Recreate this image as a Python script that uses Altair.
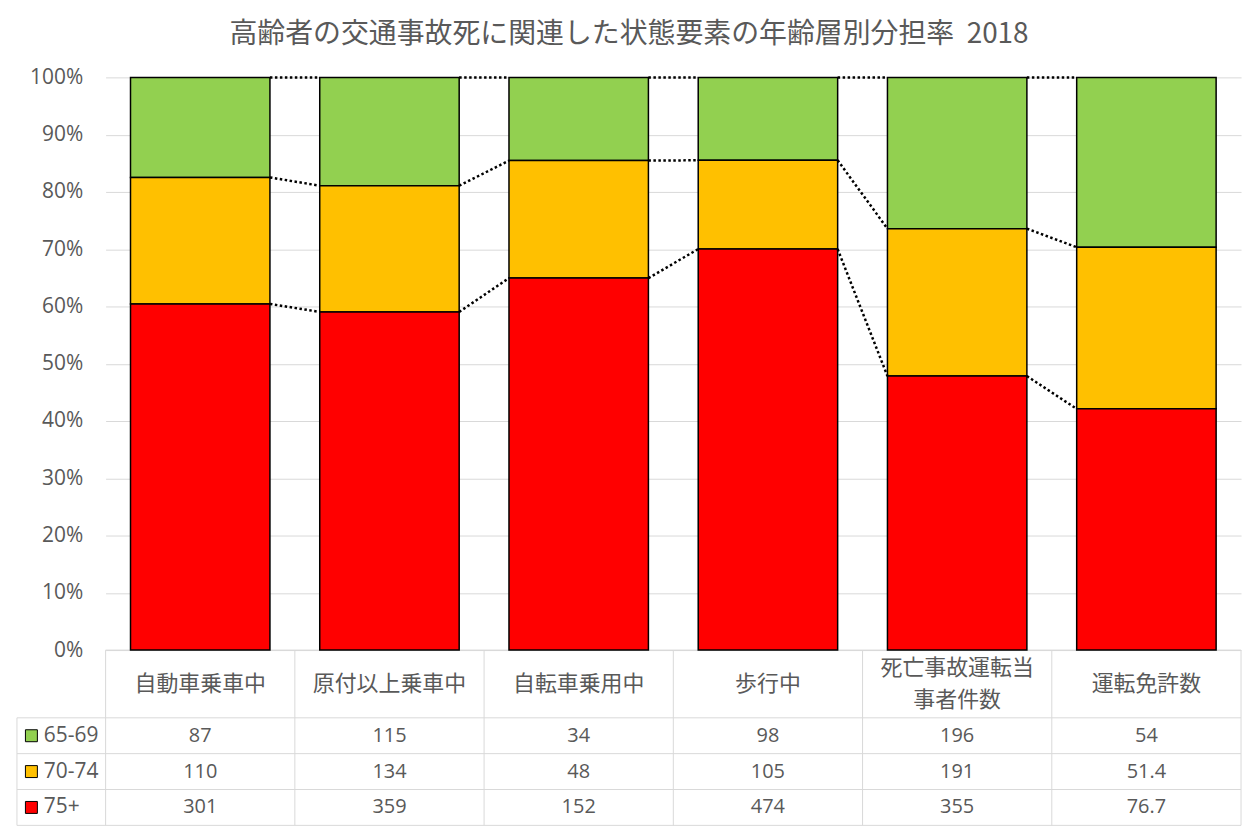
import altair as alt
import pandas as pd

# ---------------- data ----------------
categories = ["自動車乗車中", "原付以上乗車中", "自転車乗用中", "歩行中", "死亡事故運転当\n事者件数", "運転免許数"]
series = ["65-69", "70-74", "75+"]
v_65_69 = [87, 115, 34, 98, 196, 54]
v_70_74 = [110, 134, 48, 105, 191, 51.4]
v_75p = [301, 359, 152, 474, 355, 76.7]
colors = ["#92D050", "#FFC000", "#FF0000"]
TITLE = "高齢者の交通事故死に関連した状態要素の年齢層別分担率\u00a0\u00a02018"
pct_ticks = [i / 10 for i in range(11)]

# ---------------- layout constants (pixels) ----------------
FONT = "Noto Sans CJK JP"
NUMFONT = "Open Sans"
TXT = "#595959"
LINE = "#D9D9D9"
STEP = 190          # px per category column
Y_PX = 575          # px for 0%..100%
HEADER_H = 68
ROW_H = 36
LEGEND_W = 89
BAR_W = 140
CAT_LH = 32

n = len(categories)
W = STEP * n
H = Y_PX + HEADER_H + ROW_H * len(series)
y_min = -(HEADER_H + ROW_H * len(series)) / Y_PX
half = BAR_W / 2 / STEP
x_leg = -0.5 - LEGEND_W / STEP

xs = alt.Scale(domain=[-0.5, n - 0.5], nice=False, zero=False)
ys = alt.Scale(domain=[y_min, 1.0], nice=False, zero=False)
y_axis = alt.Axis(values=pct_ticks, format=".0%", grid=True, gridColor=LINE,
                  gridWidth=1, domain=False, ticks=False, labelFontSize=21,
                  labelColor=TXT, labelFont=NUMFONT, labelPadding=23, title=None)


def Y(field):
    return alt.Y(field, scale=ys, axis=y_axis, title=None)


def X(field):
    return alt.X(field, scale=xs, axis=None)


# long table
values_by_series = {"65-69": v_65_69, "70-74": v_70_74, "75+": v_75p}
stack_order = {"75+": 0, "70-74": 1, "65-69": 2}
rows = []
for s in series:
    for i, c in enumerate(categories):
        v = values_by_series[s][i]
        rows.append({"cat": c, "idx": i, "series": s, "order": stack_order[s],
                     "value": v, "label": f"{v:g}",
                     "row": series.index(s)})
df = pd.DataFrame(rows)

color = alt.Color("series:N", scale=alt.Scale(domain=series, range=colors), legend=None)

base = alt.Chart(df).transform_joinaggregate(
    total="sum(value)", groupby=["cat"]
).transform_window(
    cum="sum(value)", groupby=["cat"], sort=[alt.SortField("order")], frame=[None, 0]
).transform_calculate(
    ylo="(datum.cum - datum.value) / datum.total",
    yhi="datum.cum / datum.total",
    xl=f"datum.idx - {half}",
    xr=f"datum.idx + {half}",
)

bars = base.mark_bar(stroke="black", strokeWidth=1.5).encode(
    x=X("xl:Q"), x2="xr:Q",
    y=Y("ylo:Q"), y2="yhi:Q",
    color=color,
)

connectors = base.transform_window(
    nxt="lead(yhi)", groupby=["series"], sort=[alt.SortField("idx")]
).transform_filter(
    "datum.nxt != null"
).transform_calculate(
    x1=f"datum.idx + {half}",
    x2c=f"datum.idx + 1 - {half}",
).mark_rule(color="black", strokeWidth=2.5, strokeDash=[2.5, 2.5]).encode(
    x=X("x1:Q"), x2="x2c:Q",
    y=Y("yhi:Q"), y2="nxt:Q",
)

# ---------------- data table below ----------------
row_lines = []
row_lines.append({"x": -0.5, "x2": n - 0.5, "y": 0.0, "y2": 0.0})
for k in range(len(series) + 1):
    yy = -(HEADER_H + ROW_H * k) / Y_PX
    row_lines.append({"x": x_leg, "x2": n - 0.5, "y": yy, "y2": yy})
row_lines.append({"x": x_leg, "x2": x_leg, "y": -HEADER_H / Y_PX, "y2": y_min})
for k in range(n + 1):
    row_lines.append({"x": -0.5 + k, "x2": -0.5 + k, "y": 0.0, "y2": y_min})
grid_df = pd.DataFrame(row_lines)

table_lines = alt.Chart(grid_df).mark_rule(color=LINE, strokeWidth=1).encode(
    x=X("x:Q"), x2="x2:Q",
    y=Y("y:Q"), y2="y2:Q",
)

# category header: one text item per line, block centred in the header row
cat_rows = []
for i, c in enumerate(categories):
    parts = c.split("\n")
    for j, p in enumerate(parts):
        off = (j - (len(parts) - 1) / 2) * CAT_LH
        cat_rows.append({"line": p, "idx": i, "y": -(HEADER_H / 2 + off) / Y_PX})
cat_df = pd.DataFrame(cat_rows)
cat_text = alt.Chart(cat_df).mark_text(
    font=FONT, fontSize=22, color=TXT, baseline="middle"
).encode(
    x=X("idx:Q"), y=Y("y:Q"), text="line:N",
)

val_text = alt.Chart(df).transform_calculate(
    yrow=f"-({HEADER_H} + {ROW_H} * datum.row + {ROW_H / 2}) / {Y_PX}"
).mark_text(font=NUMFONT, fontSize=20, color=TXT, baseline="middle").encode(
    x=X("idx:Q"), y=Y("yrow:Q"), text="label:N",
)

leg_df = pd.DataFrame({"series": series, "row": list(range(len(series)))})
leg_df["y"] = [-(HEADER_H + ROW_H * r + ROW_H / 2) / Y_PX for r in leg_df["row"]]
leg_df["xs"] = x_leg + 14.5 / STEP
leg_df["xt"] = x_leg + 27 / STEP
leg_sq = alt.Chart(leg_df).mark_square(size=144, stroke="black", strokeWidth=1, opacity=1).encode(
    x=X("xs:Q"), y=Y("y:Q"),
    fill=alt.Fill("series:N", scale=alt.Scale(domain=series, range=colors), legend=None),
)
leg_txt = alt.Chart(leg_df).mark_text(font=NUMFONT, fontSize=21, color=TXT, align="left",
                                      baseline="middle").encode(
    x=X("xt:Q"), y=Y("y:Q"), text="series:N",
)

chart = alt.layer(
    table_lines, bars, connectors, cat_text, val_text, leg_sq, leg_txt
).properties(
    width=W, height=H,
    padding={"left": 8, "top": 11, "right": 5, "bottom": 5},
    title=alt.TitleParams(text=TITLE, font=FONT, fontSize=28, fontWeight="normal",
                          color=TXT, anchor="middle", frame="bounds", offset=18),
).configure_view(stroke=None)

chart.save("out.html", embed_options={"renderer": "svg", "actions": False})
